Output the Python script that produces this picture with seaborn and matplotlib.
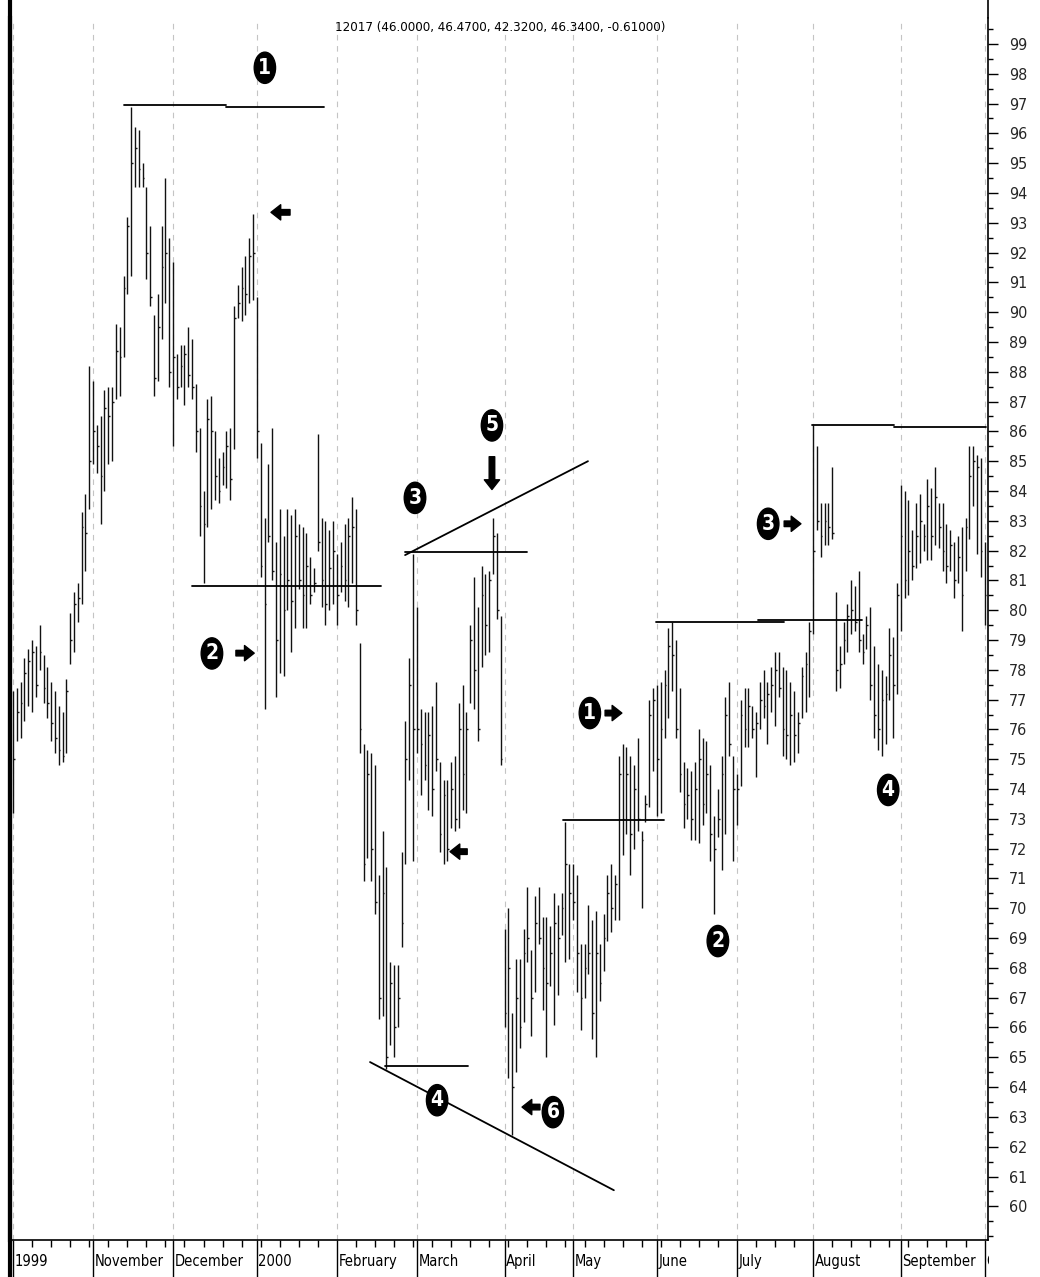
import numpy as np
import pandas as pd
import seaborn as sns
import matplotlib.pyplot as plt
from matplotlib.ticker import MultipleLocator
from matplotlib.transforms import blended_transform_factory
from matplotlib.patches import Rectangle
from matplotlib.lines import Line2D

sns.set_theme(style="white")
plt.rcParams['font.family'] = ['DejaVu Sans']
plt.rcParams['font.stretch'] = 'condensed'

# daily bars, Oct 1999 .. Oct 2000
highs = [77.3, 77.4, 77.6, 78.4, 78.7, 79.0, 78.8, 79.5, 78.5, 78.1, 77.6, 77.3, 76.8, 76.6, 77.7, 79.9, 80.6, 80.9, 83.3, 83.9, 88.2,
         87.7, 86.2, 86.5, 87.4, 87.5, 87.5, 89.6, 89.5, 91.2, 93.2, 96.9, 96.2, 96.1, 95.0, 94.2, 92.9, 89.9, 90.6, 92.9, 94.5, 92.5,
         91.7, 88.6, 88.9, 88.9, 89.5, 89.1, 87.6, 86.1, 84.0, 87.1, 87.2, 86.0, 85.1, 85.3, 86.0, 86.1, 90.2, 90.9, 91.5, 91.9, 92.5, 93.3,
         90.5, 85.6, 83.1, 84.9, 86.1, 82.3, 83.4, 82.5, 83.4, 83.2, 83.4, 82.9, 82.8, 82.6, 81.8, 81.4, 85.9, 83.1, 83.0, 82.7, 83.0,
         81.9, 82.3, 82.9, 83.1, 83.8, 83.4, 78.9, 75.5, 75.3, 75.2, 74.8, 71.1, 72.6, 71.4, 68.2, 68.1, 68.1, 71.9, 76.3, 78.4, 81.9,
         80.1, 76.7, 76.6, 76.6, 76.8, 77.6, 74.9, 74.3, 74.3, 74.9, 75.1, 76.9, 77.5, 76.6, 79.5, 81.1, 80.1, 81.5, 81.2, 81.3, 83.1, 82.6, 79.8,
         69.3, 70.0, 66.5, 68.3, 68.3, 69.3, 70.7, 68.6, 70.4, 70.7, 69.7, 69.7, 69.4, 70.5, 70.1, 70.5, 72.9, 71.5,
         71.5, 71.1, 68.8, 68.8, 70.1, 69.6, 69.9, 68.8, 69.8, 71.1, 71.5, 71.1, 75.1, 75.5, 75.4, 75.1, 74.8, 75.7, 72.6, 73.8, 77.0, 77.4,
         77.5, 77.6, 78.0, 79.4, 79.6, 79.0, 77.4, 74.9, 74.7, 74.6, 74.9, 76.0, 75.7, 75.6, 74.8, 73.1, 74.0, 75.1, 77.1, 77.6, 75.1,
         74.5, 77.0, 77.4, 77.4, 76.8, 76.6, 77.6, 78.0, 77.6, 78.1, 78.6, 78.6, 78.1, 78.0, 77.6, 77.3, 76.6, 78.1, 78.6, 79.6,
         86.2, 85.5, 83.6, 83.6, 83.6, 84.8, 80.6, 78.8, 79.6, 80.2, 81.0, 80.8, 81.3, 79.2, 79.8, 80.1, 78.8, 78.2, 78.0, 77.8, 79.4, 79.1, 80.9,
         84.2, 84.0, 83.7, 82.7, 83.6, 83.9, 82.9, 84.4, 84.1, 84.8, 83.6, 83.6, 82.9, 82.7, 82.3, 82.5, 82.8, 83.1, 85.5, 85.5, 85.2, 85.1, 82.3]
lows = [73.2, 75.6, 75.7, 76.3, 76.8, 76.6, 77.1, 78.0, 76.9, 76.4, 75.6, 75.2, 74.8, 74.9, 75.2, 78.2, 78.6, 79.6, 80.2, 81.3, 83.4,
        84.9, 84.6, 82.9, 84.0, 84.9, 85.0, 87.1, 87.2, 88.5, 90.6, 91.2, 94.2, 94.2, 94.2, 91.1, 90.2, 87.2, 87.7, 89.1, 90.3, 87.5,
        85.5, 87.1, 87.5, 86.9, 87.5, 87.1, 85.3, 82.5, 80.9, 82.8, 83.4, 83.7, 83.6, 84.2, 84.1, 83.7, 85.4, 89.8, 89.7, 89.9, 90.3, 90.4,
        85.1, 81.1, 76.7, 82.3, 81.0, 77.1, 77.9, 77.8, 80.0, 78.6, 79.4, 80.7, 79.4, 79.4, 80.2, 80.6, 82.0, 80.1, 79.5, 80.0, 80.2,
        79.5, 80.6, 80.3, 80.1, 80.9, 79.5, 75.2, 70.9, 71.7, 70.9, 69.8, 66.3, 66.4, 64.6, 65.4, 65.0, 66.0, 68.7, 71.5, 74.3, 71.6,
        75.2, 73.8, 74.3, 73.3, 73.1, 74.6, 71.9, 71.5, 71.6, 72.7, 72.6, 72.7, 73.3, 73.2, 76.9, 76.7, 75.6, 78.1, 78.5, 78.6, 81.2, 79.7, 74.8,
        66.0, 64.3, 62.4, 64.5, 65.3, 66.2, 68.2, 65.7, 67.2, 68.8, 66.6, 65.0, 67.4, 66.1, 67.1, 69.1, 68.2, 68.3,
        69.6, 67.2, 65.9, 67.0, 67.8, 65.6, 65.0, 66.9, 67.9, 68.9, 69.2, 69.6, 69.6, 71.8, 72.5, 71.1, 72.0, 72.6, 70.0, 72.9, 73.4, 74.6,
        73.1, 73.2, 75.7, 76.4, 77.3, 75.7, 73.9, 72.7, 73.0, 72.3, 72.3, 72.2, 72.8, 73.2, 71.6, 69.8, 72.4, 71.3, 72.5, 75.1, 71.6,
        72.8, 74.1, 75.4, 75.4, 75.7, 74.4, 76.0, 76.4, 75.5, 76.6, 76.1, 77.1, 75.1, 75.0, 74.8, 74.9, 75.2, 76.4, 76.6, 77.1,
        79.2, 82.7, 81.8, 82.2, 82.2, 82.4, 77.3, 77.4, 78.2, 78.6, 79.2, 79.3, 78.6, 78.2, 78.7, 77.0, 75.7, 75.3, 75.1, 75.5, 77.0, 75.7, 77.2,
        79.3, 80.4, 80.5, 81.0, 81.4, 81.6, 82.0, 81.7, 81.7, 82.2, 82.1, 81.3, 80.9, 81.3, 80.4, 80.9, 79.3, 81.3, 82.4, 83.5, 81.9, 81.1, 79.5]
closes = [75.0, 76.6, 76.9, 77.9, 78.3, 78.6, 77.5, 78.6, 77.4, 76.9, 76.2, 75.7, 75.3, 75.1, 77.3, 79.0, 80.2, 80.4, 82.8, 82.6, 85.0,
          86.0, 85.5, 84.5, 86.8, 86.5, 87.0, 88.7, 88.5, 90.8, 92.9, 95.0, 95.5, 94.8, 94.5, 92.0, 90.5, 87.8, 89.5, 91.5, 92.0, 88.0,
          88.5, 87.5, 88.2, 88.6, 87.9, 87.5, 86.0, 83.5, 82.9, 86.4, 86.0, 84.5, 84.0, 84.8, 85.5, 84.4, 89.8, 90.3, 90.8, 90.6, 91.9, 92.0,
          86.0, 81.5, 80.2, 82.5, 81.3, 79.0, 81.2, 80.0, 81.0, 80.3, 82.5, 81.0, 80.5, 81.5, 80.5, 80.9, 82.3, 81.0, 80.2, 81.4, 82.0,
          80.5, 81.5, 81.0, 82.5, 82.8, 80.0, 76.0, 71.5, 74.5, 72.0, 70.2, 67.0, 70.5, 65.0, 67.5, 66.0, 67.0, 69.5, 75.0, 77.5, 76.0,
          76.0, 75.5, 74.8, 75.8, 74.0, 75.0, 72.5, 73.8, 72.0, 74.0, 73.0, 76.0, 74.5, 76.0, 79.0, 78.0, 76.0, 80.5, 79.5, 81.0, 82.5, 80.0, 75.0,
          66.5, 68.0, 64.0, 67.0, 66.0, 68.5, 69.0, 67.0, 69.5, 69.0, 68.0, 67.5, 68.5, 69.5, 69.0, 70.0, 71.5, 70.5,
          70.2, 68.5, 67.0, 68.0, 68.5, 66.5, 68.5, 67.5, 69.0, 70.5, 70.0, 70.8, 74.5, 73.0, 74.5, 72.5, 74.0, 73.0, 72.3, 73.5, 76.5, 77.0,
          75.0, 76.0, 77.5, 78.8, 78.5, 76.0, 74.5, 73.5, 73.8, 73.0, 74.0, 75.0, 73.5, 74.5, 72.5, 72.0, 73.0, 74.5, 76.5, 75.5, 74.0,
          74.0, 76.5, 76.0, 76.8, 76.0, 76.2, 77.0, 76.8, 77.2, 77.5, 78.0, 77.4, 76.0, 75.8, 76.5, 75.8, 76.2, 77.8, 78.2, 79.3,
          82.0, 83.0, 82.5, 83.0, 82.8, 82.6, 78.0, 78.2, 79.0, 79.8, 80.0, 79.6, 79.0, 78.6, 79.5, 77.5, 76.5, 76.0, 77.0, 77.2, 78.5, 77.5, 80.5,
          82.5, 81.0, 82.0, 81.5, 82.5, 83.0, 82.5, 83.5, 82.5, 83.8, 82.8, 82.0, 81.5, 82.2, 81.0, 81.8, 80.5, 82.8, 84.5, 85.0, 84.8, 82.0, 80.5]

month_starts = [0, 21, 42, 64, 85, 106, 129, 147, 169, 190, 210, 233, 255]
month_labels = ["1999", "November", "December", "2000", "February", "March", "April",
                "May", "June", "July", "August", "September", "October"]
price_ticks = list(range(60, 100))
title = "12017 (46.0000, 46.4700, 42.3200, 46.3400, -0.61000)"

# annotation lines: (x0, x1), (y0, y1) in bar index / price
support_lines = [((29.1, 55.9), (96.95, 96.95)), ((55.9, 81.6), (96.88, 96.88)),
                 ((47.0, 96.6), (80.82, 80.82)), ((102.9, 134.9), (81.95, 81.95)),
                 ((102.9, 150.9), (81.85, 85.0)), ((93.7, 157.7), (64.84, 60.54)),
                 ((97.6, 119.4), (64.7, 64.7)), ((144.4, 170.9), (72.96, 72.96)),
                 ((168.8, 202.4), (79.6, 79.6)), ((195.5, 222.8), (79.67, 79.67)),
                 ((209.7, 231.2), (86.21, 86.21)), ((231.2, 255.3), (86.14, 86.14))]
markers = [("1", 66.1, 98.2), ("2", 52.2, 78.55), ("3", 105.5, 83.77), ("5", 125.7, 86.2),
           ("4", 111.3, 63.56), ("6", 141.7, 63.16), ("1", 151.4, 76.55), ("2", 185.0, 68.9),
           ("3", 198.2, 82.9), ("4", 229.7, 73.97)]
arrows = [((72.7, 93.35), (67.7, 93.35)), ((58.5, 78.56), (63.3, 78.56)),
          ((125.7, 85.15), (125.7, 84.05)), ((119.2, 71.9), (114.7, 71.9)),
          ((138.3, 63.33), (133.6, 63.33)), ((155.4, 76.55), (159.8, 76.55)),
          ((202.4, 82.9), (206.8, 82.9))]

bars = pd.DataFrame({"high": highs, "low": lows, "close": closes})
bars["day"] = np.arange(len(bars))

fig = plt.figure(figsize=(10.4, 12.77), dpi=100)
fig.patch.set_facecolor("white")
ax = fig.add_axes([10 / 1040, 37 / 1277, 978 / 1040, 1222 / 1277])

ax.vlines(bars.day, bars.low, bars.high, color="#111111", lw=1.0)
ax.hlines(bars.close, bars.day, bars.day + 0.45, color="#111111", lw=1.0)

for (xs, ys) in support_lines:
    ax.plot(xs, ys, color="black", lw=1.3)

for num, x, y in markers:
    ax.text(x, y, num, ha="center", va="center", color="white", fontsize=15,
            fontweight="bold",
            bbox=dict(boxstyle="ellipse,pad=0.05", fc="black", ec="black"))

for tail, tip in arrows:
    ax.annotate("", xy=tip, xytext=tail,
                arrowprops=dict(facecolor="black", edgecolor="black", width=4,
                                headwidth=11, headlength=7, shrink=0))

ax.set_xlim(-0.8, 255.9)
ax.set_ylim(58.87, 99.87)

ax.yaxis.tick_right()
ax.set_yticks(price_ticks)
ax.set_yticklabels([str(p) for p in price_ticks])
ax.yaxis.set_minor_locator(MultipleLocator(0.5))
ax.tick_params(axis="y", which="major", length=7, width=1, direction="out",
               labelsize=11.5, pad=8, color="black", right=True, left=False)
ax.tick_params(axis="y", which="minor", length=3.5, width=1, direction="out",
               color="black", right=True, left=False)

ax.set_xticks(month_starts)
ax.set_xticklabels([])
ax.xaxis.set_minor_locator(MultipleLocator(5))
ax.tick_params(axis="x", which="major", length=27, width=1, direction="out",
               color="black", bottom=True)
ax.tick_params(axis="x", which="minor", length=5, width=1, direction="out",
               color="black", bottom=True)
ax.grid(True, axis="x", which="major", color="#c4c4c4", lw=0.8, linestyle=(0, (5, 5)))
ax.grid(False, axis="y")

trans = blended_transform_factory(ax.transData, ax.transAxes)
clip = Rectangle((0, 0), 989 / 1040, 1, transform=fig.transFigure)
for pos, lab in zip(month_starts, month_labels):
    t = ax.text(pos + 0.4, -0.0175, lab, transform=trans, ha="left", va="center",
                fontsize=10.5, color="black")
    t.set_clip_path(clip)
    t.set_clip_on(True)

ax.text(0.501, 0.992, title, transform=ax.transAxes, ha="center", va="center",
        fontsize=9.5, color="black")

for side in ["left", "right", "bottom"]:
    ax.spines[side].set_color("black")
    ax.spines[side].set_visible(True)
ax.spines["top"].set_visible(False)
ax.spines["left"].set_linewidth(3)
ax.spines["right"].set_linewidth(1.2)
ax.spines["bottom"].set_linewidth(1.2)

# frame lines continue to the picture edges
fig.add_artist(Line2D([10 / 1040, 10 / 1040], [0, 1], lw=3, color="black",
                      transform=fig.transFigure))
fig.add_artist(Line2D([988 / 1040, 988 / 1040], [1259 / 1277, 1], lw=1.2, color="black",
                      transform=fig.transFigure))

fig.savefig("out.png", dpi=100, facecolor="white")
